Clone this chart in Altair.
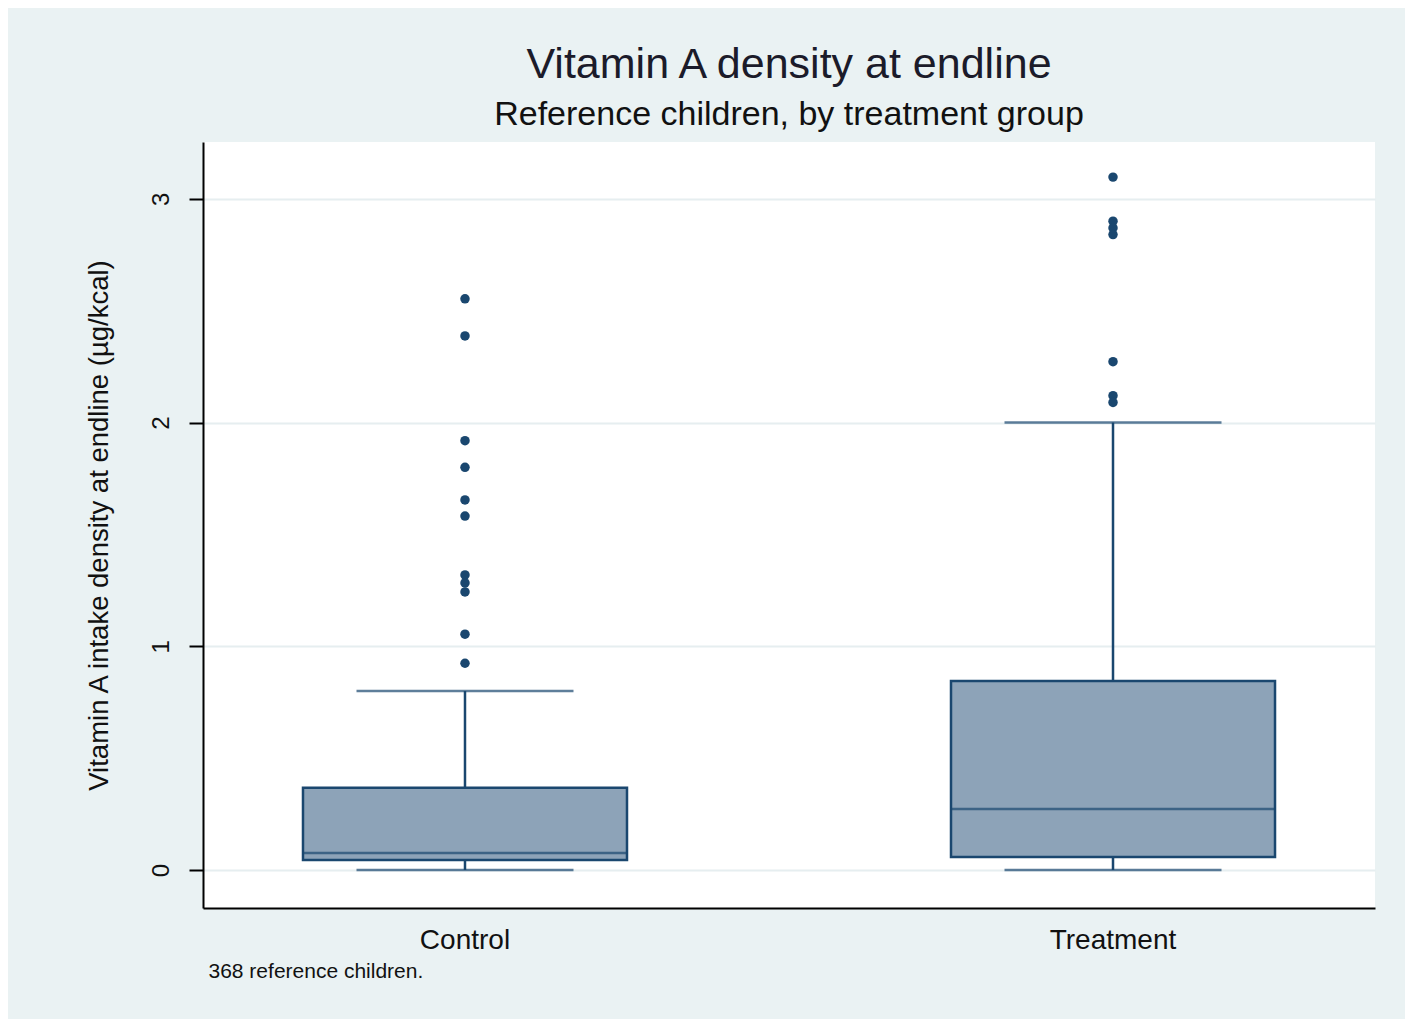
import altair as alt
import pandas as pd

# ---- data ----
groups = ["Control", "Treatment"]
whisker_low = [0.0, 0.0]
q1 = [0.045, 0.058]
median = [0.076, 0.273]
q3 = [0.367, 0.845]
whisker_high = [0.80, 2.0]

control_outliers = [2.553, 2.387, 1.919, 1.800, 1.654, 1.582, 1.319, 1.283, 1.243, 1.054, 0.924]
treatment_outliers = [3.097, 2.90, 2.87, 2.84, 2.272, 2.12, 2.09]

y_ticks = [0, 1, 2, 3]

NAVY = "#1A476F"
FILL = "#8DA3B8"
BG = "#EAF2F3"
FONT = "Liberation Sans"

stats = pd.DataFrame({
    "group": groups,
    "lo": whisker_low,
    "q1": q1,
    "med": median,
    "q3": q3,
    "hi": whisker_high,
})
outl = pd.DataFrame({
    "group": ["Control"] * len(control_outliers) + ["Treatment"] * len(treatment_outliers),
    "value": control_outliers + treatment_outliers,
})

x_enc = alt.X(
    "group:N",
    sort=groups,
    scale=alt.Scale(paddingInner=0.5, paddingOuter=0.1543),
    axis=alt.Axis(
        title="368 reference children.",
        titleFont=FONT, titleFontSize=21, titleFontWeight="normal", titleColor="#111",
        titleAnchor="start", titleAlign="left", titleX=5, titleY=63, titleBaseline="middle",
        labelFont=FONT, labelFontSize=28, labelColor="#111", labelPadding=18,
        labelAngle=0, ticks=False, domainColor="#000", domainWidth=2, grid=False,
    ),
)
y_scale = alt.Scale(domain=[-0.17, 3.254], nice=False, zero=False)
y_axis = alt.Axis(
    title="Vitamin A intake density at endline (µg/kcal)",
    titleFont=FONT, titleFontSize=27.5, titleFontWeight="normal", titleColor="#111",
    titlePadding=36,
    values=y_ticks, format="d",
    labelFont=FONT, labelFontSize=24, labelColor="#111", labelAngle=270,
    labelAlign="center", labelBaseline="bottom", labelPadding=16,
    tickSize=14, tickColor="#000", tickWidth=2,
    domainColor="#000", domainWidth=2,
    grid=True, gridColor="#E6EEF0", gridWidth=2,
)

base = alt.Chart(stats)

whisker = base.mark_rule(color=NAVY, strokeWidth=2.5).encode(
    x=x_enc,
    y=alt.Y("lo:Q", scale=y_scale, axis=y_axis),
    y2="hi:Q",
)
caps_hi = base.mark_tick(color=NAVY, thickness=2.5, size=217, orient="horizontal").encode(
    x=alt.X("group:N", sort=groups), y=alt.Y("hi:Q")
)
caps_lo = base.mark_tick(color=NAVY, thickness=2.5, size=217, orient="horizontal").encode(
    x=alt.X("group:N", sort=groups), y=alt.Y("lo:Q")
)
box = base.mark_bar(fill=FILL, stroke=NAVY, strokeWidth=2.5, width=alt.RelativeBandSize(1)).encode(
    x=alt.X("group:N", sort=groups), y=alt.Y("q1:Q"), y2="q3:Q"
)
med = base.mark_tick(color=NAVY, thickness=2.5, size=322, orient="horizontal").encode(
    x=alt.X("group:N", sort=groups), y=alt.Y("med:Q")
)
dots = alt.Chart(outl).mark_circle(color=NAVY, size=90, opacity=1).encode(
    x=alt.X("group:N", sort=groups), y=alt.Y("value:Q")
)

chart = alt.layer(whisker, caps_hi, caps_lo, box, med, dots).properties(
    width=1172,
    height=766,
    title=alt.TitleParams(
        text="Vitamin A density at endline",
        subtitle="Reference children, by treatment group",
        font=FONT, fontSize=43, fontWeight="normal", color="#1b1b2a",
        subtitleFont=FONT, subtitleFontSize=34, subtitleColor="#111",
        anchor="middle", offset=10, subtitlePadding=11,
    ),
    background=BG,
    padding={"left": 195, "top": 134, "right": 30, "bottom": 111},
    autosize=alt.AutoSizeParams(type="none"),
).configure_view(fill="white", stroke=None)

chart.save("out.html", embed_options={"renderer": "svg", "actions": False})
